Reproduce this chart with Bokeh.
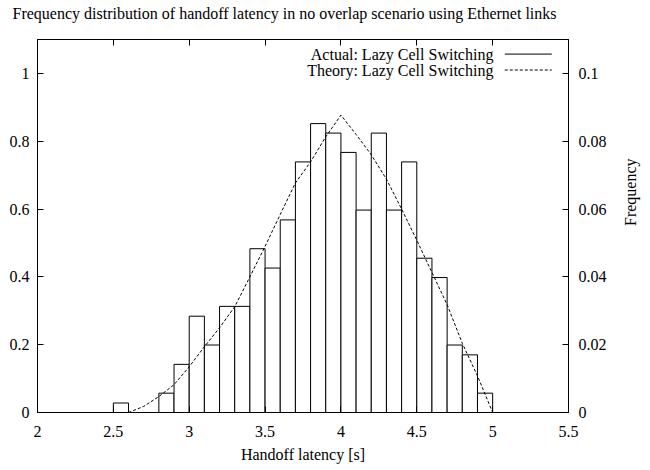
import math
from bokeh.plotting import figure
from bokeh.models import Range1d, LinearAxis, FixedTicker, Title
from bokeh.core.properties import value
from bokeh.embed import file_html
from bokeh.resources import INLINE

# ---- data ----
bin_left = [2.5, 2.6, 2.7, 2.8, 2.9, 3.0, 3.1, 3.2, 3.3, 3.4, 3.5, 3.6, 3.7,
            3.8, 3.9, 4.0, 4.1, 4.2, 4.3, 4.4, 4.5, 4.6, 4.7, 4.8, 4.9]
bin_right = [2.6, 2.7, 2.8, 2.9, 3.0, 3.1, 3.2, 3.3, 3.4, 3.5, 3.6, 3.7, 3.8,
             3.9, 4.0, 4.1, 4.2, 4.3, 4.4, 4.5, 4.6, 4.7, 4.8, 4.9, 5.0]
actual = [0.028, 0.0, 0.0, 0.057, 0.142, 0.284, 0.199, 0.313, 0.313, 0.483,
          0.426, 0.568, 0.739, 0.852, 0.824, 0.767, 0.597, 0.824, 0.597, 0.739,
          0.455, 0.398, 0.199, 0.170, 0.057]

theory_x = [2.6, 2.7, 2.8, 2.9, 3.0, 3.1, 3.2, 3.3, 3.4, 3.5, 3.6, 3.7, 3.8,
            3.9, 4.0, 4.1, 4.2, 4.3, 4.4, 4.5, 4.6, 4.7, 4.8, 4.9, 5.0]
theory_freq = [0.0, 0.0018, 0.0047, 0.0082, 0.0135, 0.0194, 0.0250, 0.0312,
               0.0400, 0.0490, 0.0584, 0.0677, 0.0739, 0.0813, 0.0877, 0.0820,
               0.0760, 0.0688, 0.0600, 0.0508, 0.0413, 0.0318, 0.0204, 0.0108,
               0.0]

x_ticks = [2, 2.5, 3, 3.5, 4, 4.5, 5, 5.5]
y_ticks = [0, 0.2, 0.4, 0.6, 0.8, 1.0]
y2_ticks = [0, 0.02, 0.04, 0.06, 0.08, 0.1]

legend_labels = ["Actual: Lazy Cell Switching", "Theory: Lazy Cell Switching"]

FONT = "Liberation Serif"
FS = "16px"
DASH = "3 2"

p = figure(width=650, height=470, output_backend="svg", toolbar_location=None,
           x_range=Range1d(2, 5.5), y_range=Range1d(0, 1.1),
           min_border_left=37, min_border_right=79, min_border_top=39,
           min_border_bottom=58, x_axis_location=None, y_axis_location=None)
p.extra_y_ranges = {"freq": Range1d(0, 0.11)}
p.xgrid.visible = False
p.ygrid.visible = False
p.outline_line_color = "black"
p.outline_line_width = 1
p.background_fill_color = "white"
p.border_fill_color = "white"

p.title = Title(text="Frequency distribution of handoff latency in no overlap scenario using Ethernet links",
                text_font=FONT, text_font_size=FS, text_font_style="normal",
                align="left", offset=-25, standoff=0, text_color="black")


def style_axis(ax, ticks):
    ax.ticker = FixedTicker(ticks=ticks)
    ax.major_tick_in = 6
    ax.major_tick_out = 0
    ax.minor_tick_in = 0
    ax.minor_tick_out = 0
    ax.axis_line_color = "black"
    ax.major_tick_line_color = "black"
    ax.major_label_text_font = FONT
    ax.major_label_text_font_size = FS
    ax.major_label_text_color = "black"
    ax.axis_label_text_font = FONT
    ax.axis_label_text_font_size = FS
    ax.axis_label_text_font_style = "normal"
    ax.axis_label_text_color = "black"


bottom = LinearAxis(axis_label="Handoff latency [s]")
style_axis(bottom, x_ticks)
bottom.major_label_standoff = 13
bottom.axis_label_standoff = 6
p.add_layout(bottom, "below")

# mirrored ticks on the top edge (no labels)
top = LinearAxis()
style_axis(top, x_ticks)
top.major_label_overrides = {t: "" for t in x_ticks}
top.major_label_standoff = 0
p.add_layout(top, "above")

# invisible spacer axis that lifts the title to its place
spacer = LinearAxis()
style_axis(spacer, x_ticks)
spacer.major_label_overrides = {t: "" for t in x_ticks}
spacer.major_label_standoff = 0
spacer.major_tick_in = 0
spacer.major_tick_out = 18
spacer.major_tick_line_color = None
spacer.axis_line_color = None
p.add_layout(spacer, "above")

left = LinearAxis()
style_axis(left, y_ticks)
left.major_label_standoff = 8
p.add_layout(left, "left")

right = LinearAxis(y_range_name="freq", axis_label="Frequency")
style_axis(right, y2_ticks)
right.major_label_standoff = 10
right.axis_label_standoff = 21
right.axis_label_orientation = math.pi / 2
right.axis_label_text_line_height = 0.8
p.add_layout(right, "right")

# histogram bars
p.quad(left=bin_left, right=bin_right, bottom=0, top=actual,
       fill_color="white", line_color="black", line_width=1)

# theory curve (right axis)
p.line(theory_x, theory_freq, y_range_name="freq", line_color="black",
       line_width=1, line_dash=DASH)

# manual key (gnuplot style: text then sample)
key_y = [1.057, 1.010]
p.text(x=[5.005, 5.005], y=key_y, text=legend_labels,
       text_font=value(FONT), text_font_size=FS, text_align="right",
       text_baseline="middle", text_color="black")
p.segment(x0=[5.08], y0=[key_y[0]], x1=[5.39], y1=[key_y[0]],
          line_color="black", line_width=1)
p.segment(x0=[5.08], y0=[key_y[1]], x1=[5.39], y1=[key_y[1]],
          line_color="black", line_width=1, line_dash=DASH)

open("out.html", "w").write(file_html(p, INLINE))
